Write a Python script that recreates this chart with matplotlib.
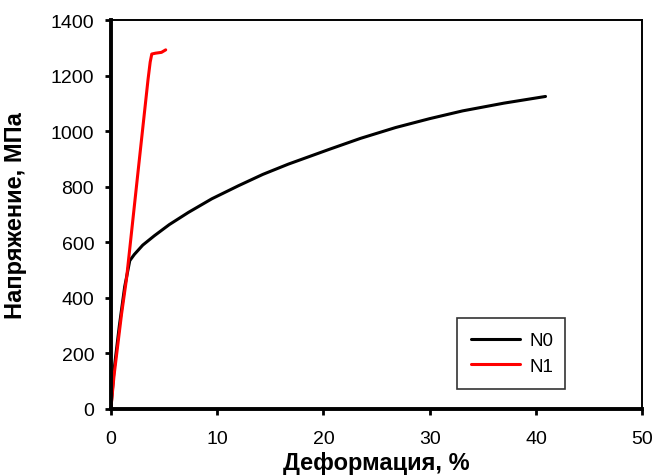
import matplotlib
matplotlib.use("Agg")
import matplotlib.pyplot as plt

# Data
n0_strain = [0, 0.3, 0.8, 1.3, 1.78, 2.2, 3.0, 4.1, 5.5, 7.3, 9.5, 12.0, 14.3, 16.7, 20.6, 23.5, 26.8, 30.0, 33.1, 37.0, 40.9]
n0_stress = [0, 140, 300, 440, 534, 556, 590, 624, 664, 708, 757, 804, 845, 882, 936, 975, 1014, 1046, 1074, 1102, 1126]

n1_strain = [0, 0.3, 1.0, 1.47, 1.8, 2.6, 3.5, 3.7, 3.85, 4.2, 4.76, 5.16]
n1_stress = [0, 120, 340, 468, 585, 870, 1188, 1250, 1279, 1282, 1285, 1294]

x_ticks = [0, 10, 20, 30, 40, 50]
y_ticks = [0, 200, 400, 600, 800, 1000, 1200, 1400]

plt.rcParams['font.family'] = ['Liberation Sans', 'DejaVu Sans']

fig = plt.figure(figsize=(6.56, 4.77), dpi=100)
ax = fig.add_axes([0.169, 0.141, 0.810, 0.814])

ax.plot(n0_strain, n0_stress, color='black', lw=2.2, label='N0', solid_capstyle='round')
ax.plot(n1_strain, n1_stress, color='#ff0000', lw=2.2, label='N1', solid_capstyle='round')

ax.set_xlim(0, 50)
ax.set_ylim(0, 1400)
ax.set_xticks(x_ticks)
ax.set_yticks(y_ticks)
ax.tick_params(direction='out', length=4, width=2, labelsize=14, colors='black')
ax.tick_params(axis='y', pad=8)
ax.tick_params(axis='x', pad=11)

for side in ['left', 'bottom']:
    ax.spines[side].set_linewidth(2.8)
for side in ['top', 'right']:
    ax.spines[side].set_linewidth(1.4)

ax.set_xlabel('Деформация, %', fontsize=17, fontweight='bold')
ax.set_ylabel('Напряжение, МПа', fontsize=17, fontweight='bold')
ax.xaxis.set_label_coords(0.5, -0.108)
ax.yaxis.set_label_coords(-0.158, 0.5)

leg = ax.legend(loc='lower left', bbox_to_anchor=(0.652, 0.051, 0.203, 0.185), mode='expand',
                fontsize=13.5, frameon=True, fancybox=False, shadow=False,
                handlelength=2.6, borderpad=0.75, labelspacing=0.45, handletextpad=0.5,
                borderaxespad=0)
leg.get_frame().set_edgecolor('black')
leg.get_frame().set_linewidth(1.2)

fig.savefig('out.png', dpi=100)
